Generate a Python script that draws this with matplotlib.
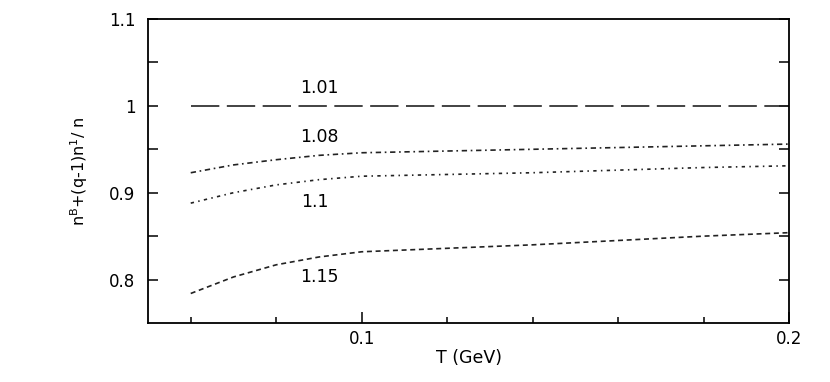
import numpy as np
import matplotlib.pyplot as plt
from matplotlib.ticker import FixedLocator, NullFormatter

plt.rcParams['font.family'] = ['DejaVu Sans']
plt.rcParams['mathtext.fontset'] = 'dejavusans'

# Dados
T = [0.06, 0.07, 0.08, 0.09, 0.10, 0.12, 0.14, 0.16, 0.18, 0.20]
r_101 = [1.0, 1.0, 1.0, 1.0, 1.0, 1.0, 1.0, 1.0, 1.0, 1.0]
r_108 = [0.923, 0.932, 0.938, 0.943, 0.946, 0.948, 0.950, 0.952, 0.954, 0.956]
r_110 = [0.888, 0.900, 0.909, 0.915, 0.919, 0.921, 0.923, 0.926, 0.929, 0.931]
r_115 = [0.784, 0.803, 0.817, 0.826, 0.832, 0.836, 0.840, 0.845, 0.850, 0.854]
q_labels = ['1.01', '1.08', '1.1', '1.15']
label_pos = [(0.090, 1.021), (0.090, 0.964), (0.089, 0.889), (0.090, 0.803)]

fig = plt.figure(figsize=(8.3, 3.82), dpi=100)
ax = fig.add_axes([148/830, 1-323/382, 641/830, 304/382])

lw = 1.2
ax.plot(T, r_101, color='#222222', lw=lw, dashes=(17, 4.5))
ax.plot(T, r_108, color='#222222', lw=lw, dashes=(3.2, 2.2, 1.0, 2.2))
ax.plot(T, r_110, color='#222222', lw=lw, dashes=(2.0, 2.6, 0.9, 2.6))
ax.plot(T, r_115, color='#222222', lw=lw, dashes=(3.0, 2.2))

for lab, (x, y) in zip(q_labels, label_pos):
    ax.text(x, y, lab, ha='center', va='center', fontsize=12.5)

ax.set_xlim(0.05, 0.2)
ax.set_ylim(0.75, 1.1)
ax.xaxis.set_major_locator(FixedLocator([0.1, 0.2]))
ax.set_xticklabels(['0.1', '0.2'])
ax.xaxis.set_minor_locator(FixedLocator([0.06, 0.08, 0.12, 0.14, 0.16, 0.18]))
ax.xaxis.set_minor_formatter(NullFormatter())
ax.yaxis.set_major_locator(FixedLocator([0.8, 0.9, 1.0, 1.1]))
ax.set_yticklabels(['0.8', '0.9', '1', '1.1'])
ax.yaxis.set_minor_locator(FixedLocator([0.85, 0.95, 1.05]))
ax.yaxis.set_minor_formatter(NullFormatter())

ax.tick_params(axis='x', which='major', direction='in', length=8, width=1.1,
               labelsize=12, pad=5)
ax.tick_params(axis='x', which='minor', direction='in', length=4, width=1.1)
ax.tick_params(axis='y', which='both', direction='in', length=7.5, width=1.1,
               right=True, labelsize=12, pad=9)
for s in ax.spines.values():
    s.set_linewidth(1.3)

ax.set_xlabel('T (GeV)', fontsize=12.5, labelpad=1)
ax.set_ylabel(r'n$^{\rm B}$+(q-1)n$^{1}$/ n', fontsize=11.5, labelpad=14)

plt.savefig('out.png', dpi=100)
